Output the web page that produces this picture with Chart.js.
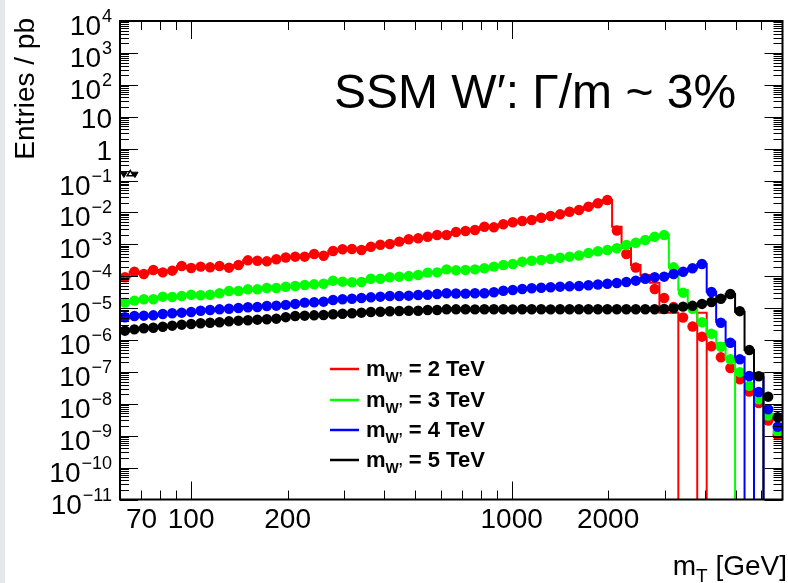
<!DOCTYPE html>
<html>
<head>
<meta charset="utf-8">
<script src="https://cdn.jsdelivr.net/npm/chart.js@4.4.1/dist/chart.umd.min.js"></script>
<style>
html,body{margin:0;padding:0;background:#fff;}
#wrap{position:relative;width:788px;height:583px;}
canvas{display:block;}
</style>
</head>
<body>
<div id="wrap"><canvas id="c" width="788" height="583"></canvas></div>
<script>
// ---- data ----
// transverse-mass bin centres [GeV]
const mT = [62.16, 66.53, 71.21, 76.22, 81.58, 87.32, 93.46, 100.03, 107.07, 114.59,
  122.65, 131.27, 140.51, 150.39, 160.96, 172.29, 184.40, 197.37, 211.25, 226.11,
  241.99, 259.00, 277.22, 296.73, 317.59, 339.92, 363.83, 389.41, 416.80, 446.11,
  477.46, 511.02, 546.98, 585.46, 626.62, 670.69, 717.86, 768.33, 822.38, 880.20,
  942.06, 1008.3, 1079.2, 1155.2, 1236.4, 1323.3, 1416.4, 1516.0, 1622.6, 1736.7,
  1858.7, 1989.3, 2129.3, 2279.2, 2439.3, 2610.9, 2794.5, 2991.0, 3201.4, 3426.5,
  3667.3, 3925.1, 4201.3, 4496.9, 4813.0, 5151.5, 5513.8, 5901.5, 6316.6, 6760.7];

// marker values [pb], one per bin
const red = [9.24e-5, 1.38e-4, 1.17e-4, 1.56e-4, 1.32e-4, 1.49e-4, 2.09e-4, 1.81e-4, 1.99e-4, 1.90e-4,
  2.09e-4, 1.85e-4, 2.24e-4, 3.15e-4, 3.06e-4, 2.93e-4, 3.39e-4, 3.86e-4, 4.09e-4, 4.09e-4,
  4.97e-4, 4.39e-4, 6.17e-4, 6.97e-4, 7.13e-4, 6.63e-4, 8.41e-4, 9.71e-4, 1.02e-3, 1.21e-3,
  1.44e-3, 1.54e-3, 1.73e-3, 1.96e-3, 1.96e-3, 2.43e-3, 2.61e-3, 2.81e-3, 3.56e-3, 3.41e-3,
  4.24e-3, 4.90e-3, 5.37e-3, 5.78e-3, 6.82e-3, 7.71e-3, 8.71e-3, 1.05e-2, 1.19e-2, 1.51e-2,
  1.93e-2, 2.45e-2, 2.71e-3, 4.97e-4, 1.87e-4, 8.79e-5, 3.97e-5, 2.07e-5, 1.08e-5, 5.07e-6,
  2.65e-6, 1.27e-6, 6.35e-7, 2.87e-7, 1.32e-7, 5.86e-8, 2.43e-8, 1.06e-8, 2.99e-9, 1.05e-9];
const green = [1.48e-5, 1.71e-5, 1.89e-5, 1.89e-5, 2.28e-5, 2.23e-5, 2.40e-5, 2.63e-5, 2.52e-5, 2.63e-5,
  2.91e-5, 3.44e-5, 3.44e-5, 3.88e-5, 3.88e-5, 4.27e-5, 4.27e-5, 4.66e-5, 4.93e-5, 5.30e-5,
  5.57e-5, 5.82e-5, 7.23e-5, 6.73e-5, 6.44e-5, 6.58e-5, 8.35e-5, 8.35e-5, 9.24e-5, 9.65e-5,
  1.01e-4, 1.09e-4, 1.29e-4, 1.32e-4, 1.64e-4, 1.53e-4, 1.56e-4, 1.64e-4, 1.77e-4, 1.99e-4,
  2.24e-4, 2.41e-4, 2.85e-4, 3.06e-4, 3.22e-4, 3.46e-4, 3.80e-4, 4.09e-4, 4.45e-4, 5.33e-4,
  6.04e-4, 6.63e-4, 7.50e-4, 9.51e-4, 1.12e-3, 1.36e-3, 1.73e-3, 1.96e-3, 1.90e-4, 3.04e-5,
  9.57e-6, 3.59e-6, 1.57e-6, 6.16e-7, 2.48e-7, 9.79e-8, 3.66e-8, 1.39e-8, 4.30e-9, 1.33e-9];
const blue = [5.15e-6, 5.65e-6, 5.78e-6, 5.94e-6, 6.53e-6, 6.87e-6, 7.18e-6, 7.55e-6, 8.28e-6, 8.71e-6,
  9.16e-6, 9.57e-6, 1.01e-5, 1.06e-5, 1.08e-5, 1.16e-5, 1.19e-5, 1.26e-5, 1.35e-5, 1.48e-5,
  1.52e-5, 1.59e-5, 1.79e-5, 1.89e-5, 1.97e-5, 2.07e-5, 2.18e-5, 2.28e-5, 2.40e-5, 2.40e-5,
  2.45e-5, 2.58e-5, 2.63e-5, 2.77e-5, 2.91e-5, 2.87e-5, 2.85e-5, 2.91e-5, 2.91e-5, 3.13e-5,
  3.51e-5, 3.69e-5, 3.97e-5, 4.18e-5, 4.36e-5, 4.49e-5, 4.69e-5, 4.82e-5, 4.93e-5, 5.22e-5,
  5.50e-5, 5.82e-5, 6.12e-5, 6.58e-5, 7.23e-5, 8.35e-5, 9.24e-5, 9.65e-5, 1.17e-4, 1.38e-4,
  1.77e-4, 2.41e-4, 3.20e-5, 3.48e-6, 8.23e-7, 2.48e-7, 7.44e-8, 2.34e-8, 6.73e-9, 1.91e-9];
const black = [1.96e-6, 2.16e-6, 2.33e-6, 2.43e-6, 2.61e-6, 2.81e-6, 3.02e-6, 3.18e-6, 3.34e-6, 3.48e-6,
  3.59e-6, 3.85e-6, 4.03e-6, 4.15e-6, 4.33e-6, 4.46e-6, 4.66e-6, 5.19e-6, 5.65e-6, 5.78e-6,
  5.94e-6, 6.08e-6, 6.40e-6, 6.67e-6, 6.87e-6, 7.18e-6, 7.55e-6, 7.71e-6, 7.94e-6, 8.11e-6,
  8.28e-6, 8.28e-6, 8.71e-6, 8.71e-6, 9.16e-6, 9.16e-6, 9.2e-6, 9.1e-6, 9.2e-6, 9.2e-6,
  9.2e-6, 9.1e-6, 9.2e-6, 9.2e-6, 9.2e-6, 9.1e-6, 9.2e-6, 9.2e-6, 9.2e-6, 9.2e-6,
  9.2e-6, 9.2e-6, 9.2e-6, 9.2e-6, 9.2e-6, 9.2e-6, 9.2e-6, 9.37e-6, 9.86e-6, 1.11e-5,
  1.18e-5, 1.35e-5, 1.55e-5, 1.96e-5, 2.77e-5, 8.00e-6, 4.86e-7, 7.28e-8, 1.67e-8, 3.77e-9];

// histogram (line) contents where they differ from the markers: from bin index "start" to the end (0 = empty bin)
const redLineStart = 52;
const redLineTail = [3.56e-3, 7.66e-4, 2.24e-4, 1.09e-4, 6.25e-5, 7.18e-6, 7.18e-6, 0, 0, 7.18e-6, 0, 0, 0, 0, 0, 0, 0, 0];
const greenLineStart = 58;
const greenLineTail = [1.90e-4, 3.69e-5, 9.86e-6, 4.24e-6, 1.82e-6, 7.88e-7, 2.73e-7, 0, 0, 0, 0, 0];
const blueLineStart = 62;
const blueLineTail = [3.27e-5, 3.75e-6, 8.85e-7, 2.87e-7, 0, 6.92e-8, 0, 0];
const blackLineStart = 65;
const blackLineTail = [7.71e-6, 4.86e-7, 9.05e-8, 0, 0];

// small triangle marks at the left edge near 0.16 pb
const triDownX = [61.7, 66.8];
const triUpX = [64.6];
const triY = 0.16;

const seriesNames = ['2', '3', '4', '5'];
const seriesColors = ['#ff0000', '#00ff00', '#0000ff', '#000000'];

// axis ticks
const xTickValues = [70, 80, 90, 100, 200, 300, 400, 500, 600, 700, 800, 900, 1000, 2000, 3000, 4000, 5000, 6000];
const xTickLabels = [70, 100, 200, 1000, 2000];
const xMajorTicks = [100, 1000];
const yDecades = [4, 3, 2, 1, 0, -1, -2, -3, -4, -5, -6, -7, -8, -9, -10, -11];

const FONT = "'Liberation Sans', Arial, Helvetica, sans-serif";
const EMPTY = 1e-30; // empty histogram bin -> drawn below the frame

function lineValues(markers, start, tail) {
  return markers.slice(0, start).concat(tail).map(v => (v === 0 ? EMPTY : v));
}
function pts(vals) { return vals.map((v, i) => ({x: mT[i], y: v})); }

const markerSets = [red, green, blue, black];
const lineSets = [
  lineValues(red, redLineStart, redLineTail),
  lineValues(green, greenLineStart, greenLineTail),
  lineValues(blue, blueLineStart, blueLineTail),
  lineValues(black, blackLineStart, blackLineTail)
];

const datasets = [];
for (let s = 0; s < 4; s++) {
  datasets.push({
    label: 'hist ' + seriesNames[s],
    data: pts(lineSets[s]),
    showLine: true, stepped: 'middle', fill: false,
    borderColor: seriesColors[s], borderWidth: 2, pointRadius: 0,
    order: 10 - 2 * s
  });
  datasets.push({
    label: 'm ' + seriesNames[s],
    data: pts(markerSets[s]),
    showLine: false,
    backgroundColor: seriesColors[s], borderColor: seriesColors[s], borderWidth: 0,
    pointRadius: 5.2, pointStyle: 'circle',
    order: 9 - 2 * s
  });
}
datasets.push({
  label: 'tri down', data: triDownX.map(v => ({x: v, y: triY})), showLine: false,
  pointStyle: 'triangle', rotation: 180, pointRadius: 3.6,
  backgroundColor: '#000', borderColor: '#000', borderWidth: 1, order: 0
});
datasets.push({
  label: 'tri up', data: triUpX.map(v => ({x: v, y: triY})), showLine: false,
  pointStyle: 'triangle', rotation: 0, pointRadius: 3.6,
  backgroundColor: '#fff', borderColor: '#000', borderWidth: 1.5, order: 0
});

function line(ctx, x1, y1, x2, y2) { ctx.beginPath(); ctx.moveTo(x1, y1); ctx.lineTo(x2, y2); ctx.stroke(); }

const rootStyle = {
  id: 'rootStyle',
  beforeDraw(chart) {
    const ctx = chart.ctx;
    ctx.save();
    ctx.fillStyle = '#fff'; ctx.fillRect(0, 0, chart.width, chart.height);
    ctx.fillStyle = '#e5e8e9'; ctx.fillRect(0, 0, 5, chart.height);
    ctx.restore();
  },
  afterDatasetsDraw(chart) {
    const {ctx, chartArea: a, scales: {x, y}} = chart;
    ctx.save();
    ctx.strokeStyle = '#000';
    ctx.lineWidth = 1;
    // x ticks (bottom and top, inside frame)
    xTickValues.forEach(v => {
      const px = Math.round(x.getPixelForValue(v)) + 0.5;
      const len = xMajorTicks.includes(v) ? 18 : 9;
      line(ctx, px, a.bottom, px, a.bottom - len);
      line(ctx, px, a.top, px, a.top + len);
    });
    // y ticks (left and right)
    for (let e = -11; e <= 4; e++) {
      for (let m = 1; m <= 9; m++) {
        if (e === 4 && m > 1) break;
        const v = m * Math.pow(10, e);
        const py = Math.round(y.getPixelForValue(v)) + 0.5;
        const len = m === 1 ? 18 : 9;
        line(ctx, a.left, py, a.left + len, py);
        line(ctx, a.right, py, a.right - len, py);
      }
    }
    ctx.lineWidth = 2;
    ctx.strokeRect(a.left, a.top, a.right - a.left, a.bottom - a.top);
    ctx.restore();
  },
  afterDraw(chart) {
    const {ctx, scales: {y}} = chart;
    ctx.save();
    ctx.fillStyle = '#000';
    // y tick labels with superscripts
    const xr = 112;
    yDecades.forEach(e => {
      const py = y.getPixelForValue(Math.pow(10, e));
      if (e === 0 || e === 1) {
        ctx.font = '28px ' + FONT;
        ctx.textAlign = 'right'; ctx.textBaseline = 'alphabetic';
        ctx.fillText(e === 0 ? '1' : '10', xr, py + 11.5);
      } else {
        const sup = (e < 0 ? '\u2212' : '') + Math.abs(e);
        ctx.font = '18px ' + FONT;
        ctx.textAlign = 'right'; ctx.textBaseline = 'alphabetic';
        const ws = ctx.measureText(sup).width;
        ctx.fillText(sup, xr, py + 1);
        ctx.font = '28px ' + FONT;
        ctx.fillText('10', xr - ws - 1, py + 14);
      }
    });
    // y axis title
    ctx.save();
    ctx.translate(33.5, 18);
    ctx.rotate(-Math.PI / 2);
    ctx.font = '28px ' + FONT;
    ctx.textAlign = 'right'; ctx.textBaseline = 'alphabetic';
    ctx.fillText('Entries / pb', 0, 0);
    ctx.restore();
    // x axis title  m_T [GeV]
    ctx.textAlign = 'left'; ctx.textBaseline = 'alphabetic';
    const t2 = ' [GeV]';
    ctx.font = '28px ' + FONT;
    const w2 = ctx.measureText(t2).width;
    const wm = ctx.measureText('m').width;
    ctx.font = '19px ' + FONT;
    const wT = ctx.measureText('T').width;
    const x0 = 787 - w2 - wT - wm;
    ctx.font = '28px ' + FONT;
    ctx.fillText('m', x0, 575);
    ctx.font = '19px ' + FONT;
    ctx.fillText('T', x0 + wm, 582);
    ctx.font = '28px ' + FONT;
    ctx.fillText(t2, x0 + wm + wT, 575);
    // plot label
    ctx.font = '48px ' + FONT;
    ctx.fillText('SSM W\u2032: \u0393/m ~ 3%', 334, 108);
    // legend
    const rows = [369, 400, 430, 460];
    rows.forEach((ry, s) => {
      ctx.strokeStyle = seriesColors[s];
      ctx.lineWidth = 2.5;
      line(ctx, 330, ry, 359, ry);
      ctx.fillStyle = '#000';
      ctx.font = 'bold 22px ' + FONT;
      ctx.fillText('m', 366, ry + 7);
      const wmm = ctx.measureText('m').width;
      ctx.font = 'bold 14px ' + FONT;
      ctx.fillText('W\u2019', 366 + wmm, ry + 12.5);
      const ws = ctx.measureText('W\u2019').width;
      ctx.font = 'bold 22px ' + FONT;
      ctx.fillText(' = ' + seriesNames[s] + ' TeV', 366 + wmm + ws, ry + 7);
    });
    ctx.restore();
  }
};

Chart.defaults.font.family = FONT;

new Chart(document.getElementById('c'), {
  type: 'scatter',
  data: {datasets},
  options: {
    responsive: false,
    animation: false,
    events: [],
    layout: {padding: {top: 21, right: 0, left: 0, bottom: 0}},
    plugins: {legend: {display: false}, tooltip: {enabled: false}},
    scales: {
      x: {
        type: 'logarithmic', min: 60, max: 7000,
        grid: {display: false, drawTicks: false},
        border: {display: false},
        afterBuildTicks: (scale) => { scale.ticks = xTickValues.map(v => ({value: v})); },
        afterFit: (scale) => { scale.height = 83.5; },
        ticks: {
          autoSkip: false, maxRotation: 0, padding: 4,
          color: '#000', font: {size: 28, family: FONT},
          callback: (v) => (xTickLabels.includes(v) ? String(v) : '')
        }
      },
      y: {
        type: 'logarithmic', min: 1e-11, max: 1e4,
        grid: {display: false, drawTicks: false},
        border: {display: false},
        ticks: {display: false},
        afterFit: (scale) => { scale.width = 120; }
      }
    }
  },
  plugins: [rootStyle]
});
</script>
</body>
</html>
